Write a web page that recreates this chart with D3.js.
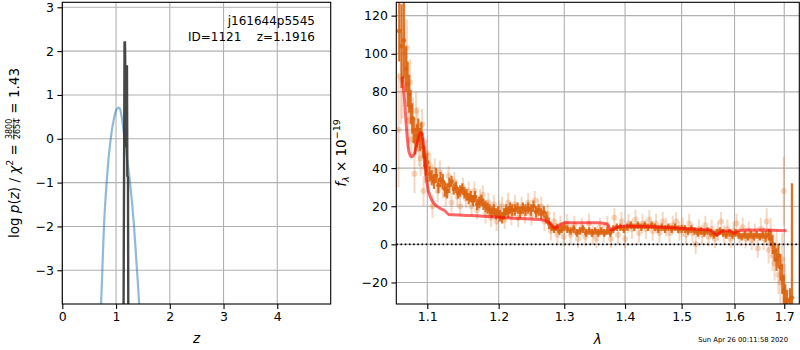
<!DOCTYPE html>
<html>
<head>
<meta charset="utf-8">
<script src="https://d3js.org/d3.v7.min.js"></script>
<style>
  body { margin: 0; background: #fff; }
  svg { font-family: "DejaVu Sans", sans-serif; display: block; }
  text { white-space: pre; }
</style>
</head>
<body>
<script>
// ---------------- data ----------------
// p(z) on the coarse grid: [z, log p]
const pzCoarse = [[0.70,-4.2],[0.72,-3.8],[0.745,-3.0],[0.775,-2.0],[0.825,-1.0],[0.90,0.0],
  [0.96,0.45],[1.00,0.64],[1.03,0.70],[1.055,0.71],[1.08,0.66],[1.105,0.50],[1.13,0.28],
  [1.16,0.0],[1.21,-0.5],[1.26,-1.0],[1.335,-2.0],[1.39,-3.0],[1.43,-3.8],[1.44,-4.1]];
// p(z) on the fine grid
const pzFine = [[1.140,-3.9],[1.158,2.22],[1.166,2.20],[1.190,-0.2],[1.203,1.68],
  [1.210,-0.85],[1.222,-0.88],[1.228,-3.9]];

// binned spectrum: [lambda, flux, err]
const binnedSpec = [
  [1.063,112,16],[1.066,104,22],[1.069,107,20],[1.072,92,12],[1.074,84,12],[1.076,79,10],
  [1.078,72,9],[1.080,66,8],[1.082,60,7],[1.084,54,7],[1.086,57,6],[1.088,60,6],
  [1.090,55,6],[1.092,58,6],[1.094,51,5],[1.096,46,5],[1.098,41,5],[1.100,43,5],
  [1.103,37,4],[1.106,35,4],[1.109,33,4],[1.112,36,4],[1.115,31,4],[1.118,34,4],
  [1.121,33,4],[1.124,29,4],[1.127,28,4],[1.130,31,4],[1.133,33,3],[1.136,29,3],
  [1.139,30,3],[1.142,27,3],[1.145,28,3],[1.148,29,3],[1.151,27,3],[1.154,26,3],
  [1.157,24,3],[1.160,25,3],[1.163,23,3],[1.166,25,3],[1.169,21,3],[1.172,22,3],
  [1.175,23,3],[1.178,21,3],[1.181,20,3],[1.184,19,3],[1.187,18,3],[1.190,17,3],
  [1.193,18,3],[1.196,16,3],[1.199,17,3],[1.202,15,3],[1.205,14,3],[1.208,16,3],
  [1.211,18,3],[1.214,17,3],[1.217,19,3],[1.220,18,3],[1.224,18,3],[1.228,19,3],
  [1.232,17,3],[1.236,19,3],[1.240,18,3],[1.244,19,3],[1.248,18,3],[1.252,20,3],
  [1.256,17,3],[1.260,18,3],[1.264,16,3],[1.268,17,3],[1.272,14,3],[1.276,11,3],
  [1.280,9,2],[1.284,8,2],[1.288,9,2],[1.292,7,2],[1.296,8,2],[1.300,9,2],
  [1.305,8,2],[1.310,7,2],[1.315,8,2],[1.320,6,2],[1.325,7,2],[1.330,8,2],
  [1.335,6,2],[1.340,7,2],[1.345,6,2],[1.350,7,2],[1.355,6,2],[1.360,7,2],
  [1.365,6,2],[1.370,7,2],[1.375,6,2],[1.380,8,2],[1.386,9,2],[1.392,9,2],
  [1.398,8,2],[1.404,9,2],[1.410,10,2],[1.416,9,2],[1.422,10,2],[1.428,9,2],
  [1.434,10,2],[1.440,9,2],[1.446,10,2],[1.452,9,2],[1.458,8,2],[1.464,9,2],
  [1.470,8,2],[1.476,9,2],[1.482,8,2],[1.488,9,2],[1.494,8,2],[1.500,8,2],
  [1.506,8,2],[1.512,7,2],[1.518,8,2],[1.524,7,2],[1.530,6,2],[1.536,7,2],
  [1.542,6,2],[1.548,7,2],[1.554,6,2],[1.560,5,2],[1.566,6,2],[1.572,7,2],
  [1.578,6,2],[1.584,5,2],[1.590,6,2],[1.596,5,2],[1.602,6,2],[1.608,5,2],
  [1.614,4,2],[1.620,5,2],[1.626,4,2],[1.632,5,2],[1.638,4,2],[1.644,5,2],
  [1.650,4,2],[1.656,5,2],[1.662,4,3],[1.668,5,3],[1.672,3,4],[1.676,0,5],
  [1.680,-4,5],[1.684,-8,6],[1.688,-6,6],[1.692,-12,7],[1.696,-18,8],[1.699,-24,8],
  [1.702,-29,8],[1.706,-30,6],[1.712,-29,6],[1.716,-28,60]];

// unbinned spectrum: [lambda, flux, err]
const rawSpec = [
  [1.062,60,30],[1.065,88,25],[1.067,86,20],[1.070,100,18],[1.073,103,15],[1.075,65,15],
  [1.077,85,12],[1.079,55,10],[1.081,65,12],[1.083,37,10],[1.085,70,10],[1.087,62,10],
  [1.089,50,9],[1.091,45,9],[1.093,63,8],[1.095,28,8],[1.097,40,8],[1.099,48,7],
  [1.101,34,7],[1.104,41,7],[1.107,20,6],[1.110,39,6],[1.114,28,6],[1.117,38,6],
  [1.121,30,6],[1.125,26,6],[1.129,36,5],[1.133,22,5],[1.137,33,5],[1.141,25,5],
  [1.145,20,5],[1.149,30,5],[1.153,24,5],[1.157,28,5],[1.161,20,5],[1.165,28,5],
  [1.169,18,5],[1.173,24,5],[1.177,26,5],[1.181,16,5],[1.185,22,5],[1.189,14,5],
  [1.193,21,5],[1.197,12,5],[1.201,18,5],[1.205,20,5],[1.209,13,5],[1.214,22,5],
  [1.219,15,5],[1.224,21,5],[1.229,14,5],[1.234,20,5],[1.239,16,5],[1.244,22,5],
  [1.249,15,5],[1.254,23,5],[1.259,19,5],[1.264,20,5],[1.269,12,5],[1.274,16,5],
  [1.279,7,5],[1.284,12,5],[1.289,5,5],[1.294,10,5],[1.299,4,5],[1.304,11,5],
  [1.310,5,5],[1.316,10,5],[1.322,3,5],[1.328,9,5],[1.334,4,5],[1.340,11,5],
  [1.346,5,5],[1.352,3,5],[1.358,9,5],[1.364,6,5],[1.370,10,5],[1.376,3,5],
  [1.382,14,5],[1.388,5,5],[1.394,12,5],[1.400,3,5],[1.406,11,5],[1.412,8,5],
  [1.418,13,5],[1.424,6,5],[1.430,11,5],[1.436,8,5],[1.442,13,5],[1.448,7,5],
  [1.454,11,5],[1.460,6,5],[1.466,12,5],[1.472,9,5],[1.478,6,5],[1.484,10,5],
  [1.490,12,5],[1.496,7,5],[1.502,9,5],[1.508,5,5],[1.514,11,5],[1.520,6,5],
  [1.526,0,5],[1.532,8,5],[1.538,5,5],[1.544,10,5],[1.550,4,5],[1.556,8,5],
  [1.562,3,5],[1.568,7,5],[1.574,12,5],[1.580,5,5],[1.586,8,5],[1.592,3,5],
  [1.598,7,5],[1.604,11,5],[1.610,4,5],[1.616,9,5],[1.622,3,5],[1.628,7,5],
  [1.634,2,5],[1.640,6,5],[1.646,-2,5],[1.652,8,6],[1.658,3,6],[1.664,12,7],
  [1.668,-3,7],[1.672,6,8],[1.676,-6,8],[1.680,-10,9],[1.684,-2,10],[1.688,-16,10],
  [1.692,-20,12],[1.696,-8,14],[1.699,28,18],[1.702,-25,15]];

// best-fit model: [lambda, flux]
const modelSpec = [[1.067,88],[1.070,75],[1.073,58],[1.076,48],[1.079,46],[1.082,47],
  [1.086,52],[1.089,57],[1.0915,58.5],[1.094,56],[1.096,48],[1.098,38],[1.100,31],
  [1.104,25],[1.108,22],[1.117,19],[1.124,17.6],[1.129,15.7],[1.149,15.3],[1.173,14.9],
  [1.200,14.2],[1.222,13.7],[1.247,13.3],[1.267,12.8],[1.278,11],[1.285,8.4],[1.293,10.1],
  [1.300,11.3],[1.325,11.3],[1.353,11.3],[1.369,10.7],[1.377,7.5],[1.386,8.9],[1.400,9.6],
  [1.437,9.4],[1.467,9.0],[1.500,8.4],[1.528,7.9],[1.553,7.5],[1.566,4.9],[1.576,7],
  [1.591,7],[1.600,5.8],[1.607,7.1],[1.624,7.5],[1.657,7.5],[1.705,7.1]];

const zTicks = [0, 1, 2, 3, 4];
const pzTicks = [-3, -2, -1, 0, 1, 2, 3];
const lamTicks = [1.1, 1.2, 1.3, 1.4, 1.5, 1.6, 1.7];
const fluxTicks = [-20, 0, 20, 40, 60, 80, 100, 120];

// ---------------- svg ----------------
const width = 800, height = 350;
const svg = d3.select('body').append('svg')
  .attr('width', width).attr('height', height);

const orange = '#dc6410';
const gridColor = '#b0b0b0';

// panel boxes
const L = {x0: 62.3, x1: 330.7, y0: 2.3, y1: 304};
const R = {x0: 396.3, x1: 799.3, y0: 2.3, y1: 304};

const xz = d3.scaleLinear().domain([0, 4.994]).range([L.x0, L.x1]);
const yz = d3.scaleLinear().domain([-3.77, 3.114]).range([L.y1, L.y0]);
const xl = d3.scaleLog().domain([1.0592, 1.7315]).range([R.x0, R.x1]);
const yf = d3.scaleLinear().domain([-31.3, 127]).range([R.y1, R.y0]);

const defs = svg.append('defs');
defs.append('clipPath').attr('id', 'clipL').append('rect')
  .attr('x', L.x0).attr('y', L.y0).attr('width', L.x1 - L.x0).attr('height', L.y1 - L.y0);
defs.append('clipPath').attr('id', 'clipR').append('rect')
  .attr('x', R.x0).attr('y', R.y0).attr('width', R.x1 - R.x0).attr('height', R.y1 - R.y0);

function grid(g, box, xs, ys, xt, yt) {
  g.selectAll('.gx').data(xt).join('line')
    .attr('x1', d => xs(d)).attr('x2', d => xs(d))
    .attr('y1', box.y0).attr('y2', box.y1)
    .attr('stroke', gridColor).attr('stroke-width', 1.1);
  g.selectAll('.gy').data(yt).join('line')
    .attr('x1', box.x0).attr('x2', box.x1)
    .attr('y1', d => ys(d)).attr('y2', d => ys(d))
    .attr('stroke', gridColor).attr('stroke-width', 1.1);
}

function axes(box, xs, ys, xt, yt, xfmt, yfmt) {
  const ax = svg.append('g')
    .attr('transform', 'translate(0,' + box.y1 + ')')
    .call(d3.axisBottom(xs).tickValues(xt).tickSize(4.9).tickPadding(3.5).tickFormat(xfmt));
  const ay = svg.append('g')
    .attr('transform', 'translate(' + box.x0 + ',0)')
    .call(d3.axisLeft(ys).tickValues(yt).tickSize(4.9).tickPadding(3.5).tickFormat(yfmt));
  [ax, ay].forEach(a => {
    a.select('.domain').remove();
    a.selectAll('line').attr('stroke', '#000').attr('stroke-width', 1.1);
    a.selectAll('text').attr('fill', '#000')
      .style('font-size', '12.5px').style('font-family', '"DejaVu Sans"');
  });
  svg.append('rect')
    .attr('x', box.x0).attr('y', box.y0)
    .attr('width', box.x1 - box.x0).attr('height', box.y1 - box.y0)
    .attr('fill', 'none').attr('stroke', '#000').attr('stroke-width', 1.1);
}

// ---------------- left panel: p(z) ----------------
const gL = svg.append('g');
grid(gL, L, xz, yz, zTicks, pzTicks);
const plotL = gL.append('g').attr('clip-path', 'url(#clipL)');

plotL.append('path').datum(pzCoarse)
  .attr('d', d3.line().x(d => xz(d[0])).y(d => yz(d[1])).curve(d3.curveMonotoneX))
  .attr('fill', 'none').attr('stroke', '#1f77b4').attr('stroke-opacity', 0.5)
  .attr('stroke-width', 2.2);

plotL.append('path').datum(pzFine)
  .attr('d', d3.line().x(d => xz(d[0])).y(d => yz(d[1])))
  .attr('fill', 'none').attr('stroke', '#333').attr('stroke-opacity', 0.9)
  .attr('stroke-width', 2.4);

const intFmt = d3.format('d');
axes(L, xz, yz, zTicks, pzTicks, intFmt, intFmt);

svg.append('text').attr('x', 315).attr('y', 25).attr('text-anchor', 'end')
  .style('font-size', '12px').text('j161644p5545');
svg.append('text').attr('x', 315).attr('y', 41).attr('text-anchor', 'end')
  .style('font-size', '12px').text('ID=1121    z=1.1916');

svg.append('text').attr('x', (L.x0 + L.x1) / 2).attr('y', 343).attr('text-anchor', 'middle')
  .style('font-size', '13.5px').style('font-style', 'italic').text('z');

// y label with fraction
const labL = svg.append('g').attr('transform', 'translate(18.5,153) rotate(-90)');
const labIn = labL.append('g');
const t1 = labIn.append('text').style('font-size', '13.5px');
t1.append('tspan').text('log ');
t1.append('tspan').style('font-style', 'italic').text('p');
t1.append('tspan').text('(');
t1.append('tspan').style('font-style', 'italic').text('z');
t1.append('tspan').text(') / ');
t1.append('tspan').style('font-style', 'italic').text('χ');
t1.append('tspan').attr('dy', -5.5).style('font-size', '9.5px').text('2');
t1.append('tspan').attr('dy', 5.5).text(' = ');
const w1 = t1.node().getComputedTextLength();
const num = labIn.append('text').attr('y', -6.3).style('font-size', '8px').text('3800');
const den = labIn.append('text').attr('y', 1.6).style('font-size', '8px').text('2654');
const fw = Math.max(num.node().getComputedTextLength(), den.node().getComputedTextLength()) + 1.5;
num.attr('x', w1 + fw / 2).attr('text-anchor', 'middle');
den.attr('x', w1 + fw / 2).attr('text-anchor', 'middle');
labIn.append('line').attr('x1', w1).attr('x2', w1 + fw)
  .attr('y1', -4.6).attr('y2', -4.6).attr('stroke', '#000').attr('stroke-width', 0.7);
const t3 = labIn.append('text').attr('x', w1 + fw).style('font-size', '13.5px').text(' = 1.43');
const wTot = w1 + fw + t3.node().getComputedTextLength();
labIn.attr('transform', 'translate(' + (-wTot / 2) + ',0)');

// ---------------- right panel: spectrum ----------------
const gR = svg.append('g');
grid(gR, R, xl, yf, lamTicks, fluxTicks);
const plotR = gR.append('g').attr('clip-path', 'url(#clipR)');

function errPoints(g, data, op, r, sw) {
  g.selectAll(null).data(data).join('line')
    .attr('x1', d => xl(d[0])).attr('x2', d => xl(d[0]))
    .attr('y1', d => yf(d[1] - d[2])).attr('y2', d => yf(d[1] + d[2]))
    .attr('stroke', orange).attr('stroke-opacity', op).attr('stroke-width', sw);
  g.selectAll(null).data(data).join('circle')
    .attr('cx', d => xl(d[0])).attr('cy', d => yf(d[1])).attr('r', r)
    .attr('fill', orange).attr('fill-opacity', op);
}

errPoints(plotR.append('g'), rawSpec, 0.25, 3, 2);
errPoints(plotR.append('g'), binnedSpec, 0.9, 2.3, 2.2);

plotR.append('path').datum(modelSpec)
  .attr('d', d3.line().x(d => xl(d[0])).y(d => yf(d[1])).curve(d3.curveMonotoneX))
  .attr('fill', 'none').attr('stroke', '#ff0000').attr('stroke-opacity', 0.6)
  .attr('stroke-width', 3);

plotR.append('line')
  .attr('x1', R.x0).attr('x2', R.x1).attr('y1', yf(0)).attr('y2', yf(0))
  .attr('stroke', '#000').attr('stroke-width', 1.6).attr('stroke-dasharray', '1.6,2.6');

axes(R, xl, yf, lamTicks, fluxTicks, d3.format('.1f'), intFmt);

svg.append('text').attr('x', (R.x0 + R.x1) / 2).attr('y', 344).attr('text-anchor', 'middle')
  .style('font-size', '13.5px').style('font-style', 'italic').text('λ');

const labR = svg.append('text')
  .attr('transform', 'translate(345.5,153) rotate(-90)')
  .attr('text-anchor', 'middle').style('font-size', '13.5px');
labR.append('tspan').style('font-style', 'italic').text('f');
labR.append('tspan').attr('dy', 3).style('font-size', '9.5px').style('font-style', 'italic').text('λ');
labR.append('tspan').attr('dy', -3).text(' × 10');
labR.append('tspan').attr('dy', -5.5).style('font-size', '9.5px').text('−19');

svg.append('text').attr('x', 788).attr('y', 341.5).attr('text-anchor', 'end')
  .style('font-size', '6.8px').text('Sun Apr 26 00:11:58 2020');
</script>
</body>
</html>
